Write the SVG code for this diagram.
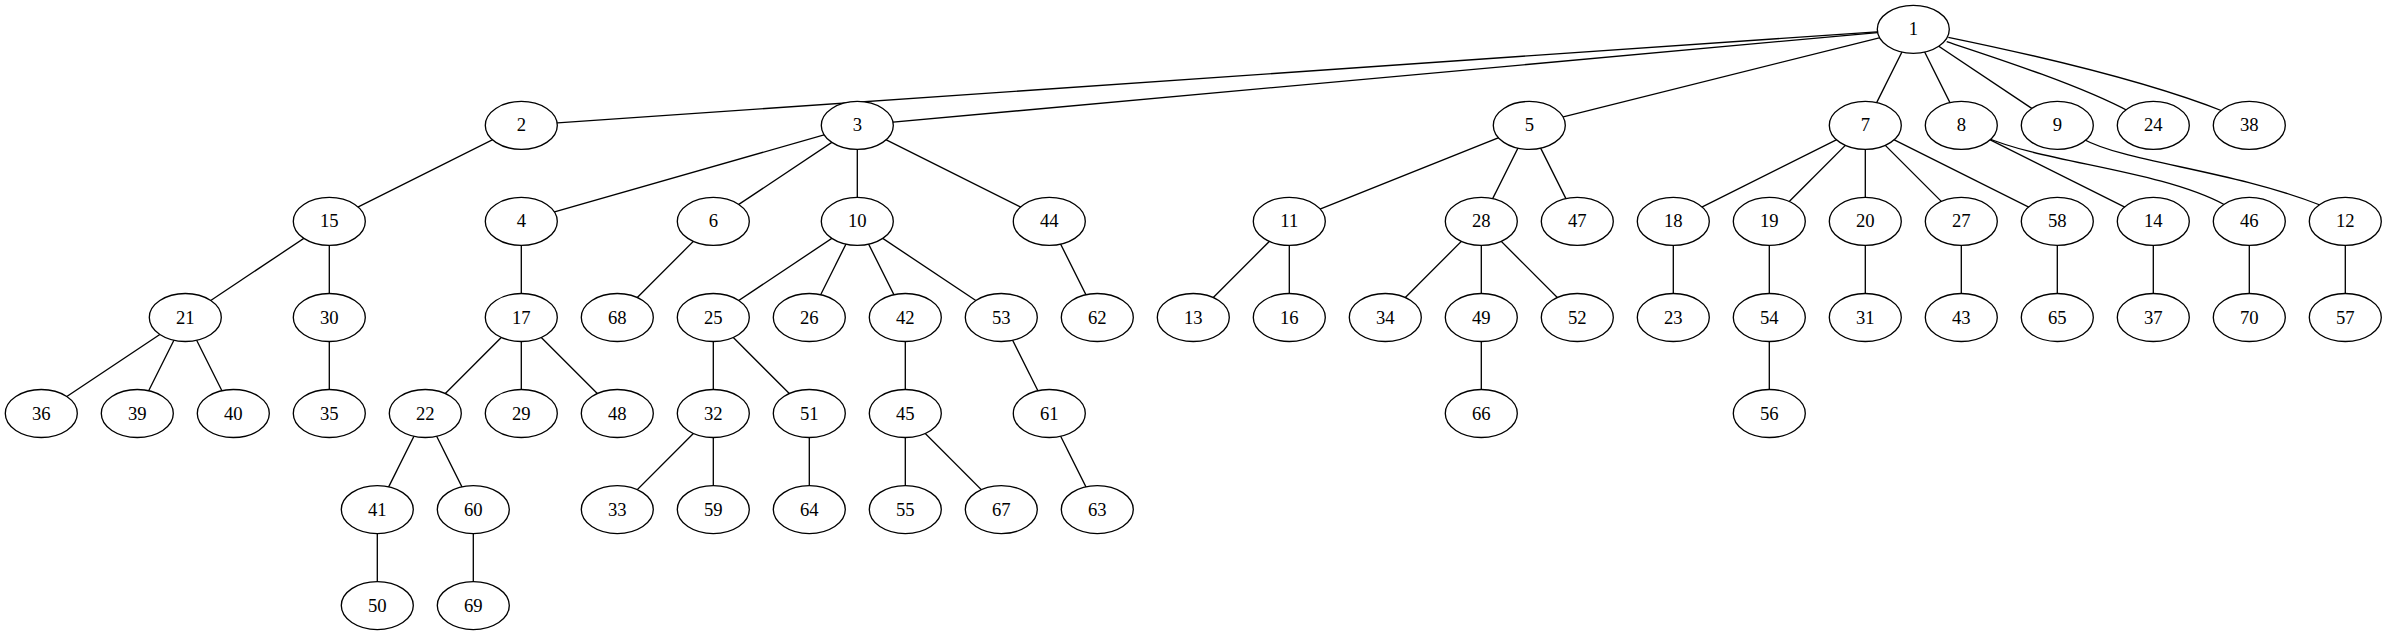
<svg xmlns="http://www.w3.org/2000/svg" width="2387" height="635" viewBox="0 0 2387 635">
<style>
.e{fill:none;stroke:#000;stroke-width:1.33}
.n ellipse{fill:#fff;stroke:#000;stroke-width:1.33}
.n text{font-family:"Liberation Serif","Times New Roman",serif;font-size:18.67px;text-anchor:middle;fill:#000}
</style>
<rect width="2387" height="635" fill="#fff"/>
<g id="edges">
<line class="e" x1="1913.3" y1="29.3" x2="521.3" y2="125.4"/>
<line class="e" x1="1913.3" y1="29.3" x2="857.3" y2="125.4"/>
<line class="e" x1="1913.3" y1="29.3" x2="1529.3" y2="125.4"/>
<line class="e" x1="1913.3" y1="29.3" x2="1865.3" y2="125.4"/>
<line class="e" x1="1913.3" y1="29.3" x2="1961.3" y2="125.4"/>
<line class="e" x1="1913.3" y1="29.3" x2="2057.3" y2="125.4"/>
<path class="e" d="M1946.7,41.7 C1990,56 2080,85 2130,112"/>
<path class="e" d="M1948.3,37.3 C2010,50 2140,78 2225,112"/>
<line class="e" x1="521.3" y1="125.4" x2="329.3" y2="221.4"/>
<line class="e" x1="857.3" y1="125.4" x2="521.3" y2="221.4"/>
<line class="e" x1="857.3" y1="125.4" x2="713.3" y2="221.4"/>
<line class="e" x1="857.3" y1="125.4" x2="857.3" y2="221.4"/>
<line class="e" x1="857.3" y1="125.4" x2="1049.3" y2="221.4"/>
<line class="e" x1="1529.3" y1="125.4" x2="1289.3" y2="221.4"/>
<line class="e" x1="1529.3" y1="125.4" x2="1481.3" y2="221.4"/>
<line class="e" x1="1529.3" y1="125.4" x2="1577.3" y2="221.4"/>
<line class="e" x1="1865.3" y1="125.4" x2="1673.3" y2="221.4"/>
<line class="e" x1="1865.3" y1="125.4" x2="1769.3" y2="221.4"/>
<line class="e" x1="1865.3" y1="125.4" x2="1865.3" y2="221.4"/>
<line class="e" x1="1865.3" y1="125.4" x2="1961.3" y2="221.4"/>
<line class="e" x1="1865.3" y1="125.4" x2="2057.3" y2="221.4"/>
<line class="e" x1="1961.3" y1="125.4" x2="2153.3" y2="221.4"/>
<path class="e" d="M1985,137 C2045,163 2160,170 2225,205"/>
<path class="e" d="M2083,139 C2125,162 2230,170 2320,205"/>
<line class="e" x1="329.3" y1="221.4" x2="185.3" y2="317.5"/>
<line class="e" x1="329.3" y1="221.4" x2="329.3" y2="317.5"/>
<line class="e" x1="521.3" y1="221.4" x2="521.3" y2="317.5"/>
<line class="e" x1="713.3" y1="221.4" x2="617.3" y2="317.5"/>
<line class="e" x1="857.3" y1="221.4" x2="713.3" y2="317.5"/>
<line class="e" x1="857.3" y1="221.4" x2="809.3" y2="317.5"/>
<line class="e" x1="857.3" y1="221.4" x2="905.3" y2="317.5"/>
<line class="e" x1="857.3" y1="221.4" x2="1001.3" y2="317.5"/>
<line class="e" x1="1049.3" y1="221.4" x2="1097.3" y2="317.5"/>
<line class="e" x1="1289.3" y1="221.4" x2="1193.3" y2="317.5"/>
<line class="e" x1="1289.3" y1="221.4" x2="1289.3" y2="317.5"/>
<line class="e" x1="1481.3" y1="221.4" x2="1385.3" y2="317.5"/>
<line class="e" x1="1481.3" y1="221.4" x2="1481.3" y2="317.5"/>
<line class="e" x1="1481.3" y1="221.4" x2="1577.3" y2="317.5"/>
<line class="e" x1="1673.3" y1="221.4" x2="1673.3" y2="317.5"/>
<line class="e" x1="1769.3" y1="221.4" x2="1769.3" y2="317.5"/>
<line class="e" x1="1865.3" y1="221.4" x2="1865.3" y2="317.5"/>
<line class="e" x1="1961.3" y1="221.4" x2="1961.3" y2="317.5"/>
<line class="e" x1="2057.3" y1="221.4" x2="2057.3" y2="317.5"/>
<line class="e" x1="2153.3" y1="221.4" x2="2153.3" y2="317.5"/>
<line class="e" x1="2249.3" y1="221.4" x2="2249.3" y2="317.5"/>
<line class="e" x1="2345.3" y1="221.4" x2="2345.3" y2="317.5"/>
<line class="e" x1="185.3" y1="317.5" x2="41.3" y2="413.5"/>
<line class="e" x1="185.3" y1="317.5" x2="137.3" y2="413.5"/>
<line class="e" x1="185.3" y1="317.5" x2="233.3" y2="413.5"/>
<line class="e" x1="329.3" y1="317.5" x2="329.3" y2="413.5"/>
<line class="e" x1="521.3" y1="317.5" x2="425.3" y2="413.5"/>
<line class="e" x1="521.3" y1="317.5" x2="521.3" y2="413.5"/>
<line class="e" x1="521.3" y1="317.5" x2="617.3" y2="413.5"/>
<line class="e" x1="713.3" y1="317.5" x2="713.3" y2="413.5"/>
<line class="e" x1="713.3" y1="317.5" x2="809.3" y2="413.5"/>
<line class="e" x1="905.3" y1="317.5" x2="905.3" y2="413.5"/>
<line class="e" x1="1001.3" y1="317.5" x2="1049.3" y2="413.5"/>
<line class="e" x1="1481.3" y1="317.5" x2="1481.3" y2="413.5"/>
<line class="e" x1="1769.3" y1="317.5" x2="1769.3" y2="413.5"/>
<line class="e" x1="425.3" y1="413.5" x2="377.3" y2="509.6"/>
<line class="e" x1="425.3" y1="413.5" x2="473.3" y2="509.6"/>
<line class="e" x1="713.3" y1="413.5" x2="617.3" y2="509.6"/>
<line class="e" x1="713.3" y1="413.5" x2="713.3" y2="509.6"/>
<line class="e" x1="809.3" y1="413.5" x2="809.3" y2="509.6"/>
<line class="e" x1="905.3" y1="413.5" x2="905.3" y2="509.6"/>
<line class="e" x1="905.3" y1="413.5" x2="1001.3" y2="509.6"/>
<line class="e" x1="1049.3" y1="413.5" x2="1097.3" y2="509.6"/>
<line class="e" x1="377.3" y1="509.6" x2="377.3" y2="605.6"/>
<line class="e" x1="473.3" y1="509.6" x2="473.3" y2="605.6"/>
</g>
<g id="n1" class="n"><ellipse cx="1913.3" cy="29.3" rx="36" ry="24"/><text x="1913.3" y="35.3">1</text></g>
<g id="n2" class="n"><ellipse cx="521.3" cy="125.4" rx="36" ry="24"/><text x="521.3" y="131.4">2</text></g>
<g id="n3" class="n"><ellipse cx="857.3" cy="125.4" rx="36" ry="24"/><text x="857.3" y="131.4">3</text></g>
<g id="n5" class="n"><ellipse cx="1529.3" cy="125.4" rx="36" ry="24"/><text x="1529.3" y="131.4">5</text></g>
<g id="n7" class="n"><ellipse cx="1865.3" cy="125.4" rx="36" ry="24"/><text x="1865.3" y="131.4">7</text></g>
<g id="n8" class="n"><ellipse cx="1961.3" cy="125.4" rx="36" ry="24"/><text x="1961.3" y="131.4">8</text></g>
<g id="n9" class="n"><ellipse cx="2057.3" cy="125.4" rx="36" ry="24"/><text x="2057.3" y="131.4">9</text></g>
<g id="n24" class="n"><ellipse cx="2153.3" cy="125.4" rx="36" ry="24"/><text x="2153.3" y="131.4">24</text></g>
<g id="n38" class="n"><ellipse cx="2249.3" cy="125.4" rx="36" ry="24"/><text x="2249.3" y="131.4">38</text></g>
<g id="n15" class="n"><ellipse cx="329.3" cy="221.4" rx="36" ry="24"/><text x="329.3" y="227.4">15</text></g>
<g id="n4" class="n"><ellipse cx="521.3" cy="221.4" rx="36" ry="24"/><text x="521.3" y="227.4">4</text></g>
<g id="n6" class="n"><ellipse cx="713.3" cy="221.4" rx="36" ry="24"/><text x="713.3" y="227.4">6</text></g>
<g id="n10" class="n"><ellipse cx="857.3" cy="221.4" rx="36" ry="24"/><text x="857.3" y="227.4">10</text></g>
<g id="n44" class="n"><ellipse cx="1049.3" cy="221.4" rx="36" ry="24"/><text x="1049.3" y="227.4">44</text></g>
<g id="n11" class="n"><ellipse cx="1289.3" cy="221.4" rx="36" ry="24"/><text x="1289.3" y="227.4">11</text></g>
<g id="n28" class="n"><ellipse cx="1481.3" cy="221.4" rx="36" ry="24"/><text x="1481.3" y="227.4">28</text></g>
<g id="n47" class="n"><ellipse cx="1577.3" cy="221.4" rx="36" ry="24"/><text x="1577.3" y="227.4">47</text></g>
<g id="n18" class="n"><ellipse cx="1673.3" cy="221.4" rx="36" ry="24"/><text x="1673.3" y="227.4">18</text></g>
<g id="n19" class="n"><ellipse cx="1769.3" cy="221.4" rx="36" ry="24"/><text x="1769.3" y="227.4">19</text></g>
<g id="n20" class="n"><ellipse cx="1865.3" cy="221.4" rx="36" ry="24"/><text x="1865.3" y="227.4">20</text></g>
<g id="n27" class="n"><ellipse cx="1961.3" cy="221.4" rx="36" ry="24"/><text x="1961.3" y="227.4">27</text></g>
<g id="n58" class="n"><ellipse cx="2057.3" cy="221.4" rx="36" ry="24"/><text x="2057.3" y="227.4">58</text></g>
<g id="n14" class="n"><ellipse cx="2153.3" cy="221.4" rx="36" ry="24"/><text x="2153.3" y="227.4">14</text></g>
<g id="n46" class="n"><ellipse cx="2249.3" cy="221.4" rx="36" ry="24"/><text x="2249.3" y="227.4">46</text></g>
<g id="n12" class="n"><ellipse cx="2345.3" cy="221.4" rx="36" ry="24"/><text x="2345.3" y="227.4">12</text></g>
<g id="n21" class="n"><ellipse cx="185.3" cy="317.5" rx="36" ry="24"/><text x="185.3" y="323.5">21</text></g>
<g id="n30" class="n"><ellipse cx="329.3" cy="317.5" rx="36" ry="24"/><text x="329.3" y="323.5">30</text></g>
<g id="n17" class="n"><ellipse cx="521.3" cy="317.5" rx="36" ry="24"/><text x="521.3" y="323.5">17</text></g>
<g id="n68" class="n"><ellipse cx="617.3" cy="317.5" rx="36" ry="24"/><text x="617.3" y="323.5">68</text></g>
<g id="n25" class="n"><ellipse cx="713.3" cy="317.5" rx="36" ry="24"/><text x="713.3" y="323.5">25</text></g>
<g id="n26" class="n"><ellipse cx="809.3" cy="317.5" rx="36" ry="24"/><text x="809.3" y="323.5">26</text></g>
<g id="n42" class="n"><ellipse cx="905.3" cy="317.5" rx="36" ry="24"/><text x="905.3" y="323.5">42</text></g>
<g id="n53" class="n"><ellipse cx="1001.3" cy="317.5" rx="36" ry="24"/><text x="1001.3" y="323.5">53</text></g>
<g id="n62" class="n"><ellipse cx="1097.3" cy="317.5" rx="36" ry="24"/><text x="1097.3" y="323.5">62</text></g>
<g id="n13" class="n"><ellipse cx="1193.3" cy="317.5" rx="36" ry="24"/><text x="1193.3" y="323.5">13</text></g>
<g id="n16" class="n"><ellipse cx="1289.3" cy="317.5" rx="36" ry="24"/><text x="1289.3" y="323.5">16</text></g>
<g id="n34" class="n"><ellipse cx="1385.3" cy="317.5" rx="36" ry="24"/><text x="1385.3" y="323.5">34</text></g>
<g id="n49" class="n"><ellipse cx="1481.3" cy="317.5" rx="36" ry="24"/><text x="1481.3" y="323.5">49</text></g>
<g id="n52" class="n"><ellipse cx="1577.3" cy="317.5" rx="36" ry="24"/><text x="1577.3" y="323.5">52</text></g>
<g id="n23" class="n"><ellipse cx="1673.3" cy="317.5" rx="36" ry="24"/><text x="1673.3" y="323.5">23</text></g>
<g id="n54" class="n"><ellipse cx="1769.3" cy="317.5" rx="36" ry="24"/><text x="1769.3" y="323.5">54</text></g>
<g id="n31" class="n"><ellipse cx="1865.3" cy="317.5" rx="36" ry="24"/><text x="1865.3" y="323.5">31</text></g>
<g id="n43" class="n"><ellipse cx="1961.3" cy="317.5" rx="36" ry="24"/><text x="1961.3" y="323.5">43</text></g>
<g id="n65" class="n"><ellipse cx="2057.3" cy="317.5" rx="36" ry="24"/><text x="2057.3" y="323.5">65</text></g>
<g id="n37" class="n"><ellipse cx="2153.3" cy="317.5" rx="36" ry="24"/><text x="2153.3" y="323.5">37</text></g>
<g id="n70" class="n"><ellipse cx="2249.3" cy="317.5" rx="36" ry="24"/><text x="2249.3" y="323.5">70</text></g>
<g id="n57" class="n"><ellipse cx="2345.3" cy="317.5" rx="36" ry="24"/><text x="2345.3" y="323.5">57</text></g>
<g id="n36" class="n"><ellipse cx="41.3" cy="413.5" rx="36" ry="24"/><text x="41.3" y="419.5">36</text></g>
<g id="n39" class="n"><ellipse cx="137.3" cy="413.5" rx="36" ry="24"/><text x="137.3" y="419.5">39</text></g>
<g id="n40" class="n"><ellipse cx="233.3" cy="413.5" rx="36" ry="24"/><text x="233.3" y="419.5">40</text></g>
<g id="n35" class="n"><ellipse cx="329.3" cy="413.5" rx="36" ry="24"/><text x="329.3" y="419.5">35</text></g>
<g id="n22" class="n"><ellipse cx="425.3" cy="413.5" rx="36" ry="24"/><text x="425.3" y="419.5">22</text></g>
<g id="n29" class="n"><ellipse cx="521.3" cy="413.5" rx="36" ry="24"/><text x="521.3" y="419.5">29</text></g>
<g id="n48" class="n"><ellipse cx="617.3" cy="413.5" rx="36" ry="24"/><text x="617.3" y="419.5">48</text></g>
<g id="n32" class="n"><ellipse cx="713.3" cy="413.5" rx="36" ry="24"/><text x="713.3" y="419.5">32</text></g>
<g id="n51" class="n"><ellipse cx="809.3" cy="413.5" rx="36" ry="24"/><text x="809.3" y="419.5">51</text></g>
<g id="n45" class="n"><ellipse cx="905.3" cy="413.5" rx="36" ry="24"/><text x="905.3" y="419.5">45</text></g>
<g id="n61" class="n"><ellipse cx="1049.3" cy="413.5" rx="36" ry="24"/><text x="1049.3" y="419.5">61</text></g>
<g id="n66" class="n"><ellipse cx="1481.3" cy="413.5" rx="36" ry="24"/><text x="1481.3" y="419.5">66</text></g>
<g id="n56" class="n"><ellipse cx="1769.3" cy="413.5" rx="36" ry="24"/><text x="1769.3" y="419.5">56</text></g>
<g id="n41" class="n"><ellipse cx="377.3" cy="509.6" rx="36" ry="24"/><text x="377.3" y="515.6">41</text></g>
<g id="n60" class="n"><ellipse cx="473.3" cy="509.6" rx="36" ry="24"/><text x="473.3" y="515.6">60</text></g>
<g id="n33" class="n"><ellipse cx="617.3" cy="509.6" rx="36" ry="24"/><text x="617.3" y="515.6">33</text></g>
<g id="n59" class="n"><ellipse cx="713.3" cy="509.6" rx="36" ry="24"/><text x="713.3" y="515.6">59</text></g>
<g id="n64" class="n"><ellipse cx="809.3" cy="509.6" rx="36" ry="24"/><text x="809.3" y="515.6">64</text></g>
<g id="n55" class="n"><ellipse cx="905.3" cy="509.6" rx="36" ry="24"/><text x="905.3" y="515.6">55</text></g>
<g id="n67" class="n"><ellipse cx="1001.3" cy="509.6" rx="36" ry="24"/><text x="1001.3" y="515.6">67</text></g>
<g id="n63" class="n"><ellipse cx="1097.3" cy="509.6" rx="36" ry="24"/><text x="1097.3" y="515.6">63</text></g>
<g id="n50" class="n"><ellipse cx="377.3" cy="605.6" rx="36" ry="24"/><text x="377.3" y="611.6">50</text></g>
<g id="n69" class="n"><ellipse cx="473.3" cy="605.6" rx="36" ry="24"/><text x="473.3" y="611.6">69</text></g>
</svg>
